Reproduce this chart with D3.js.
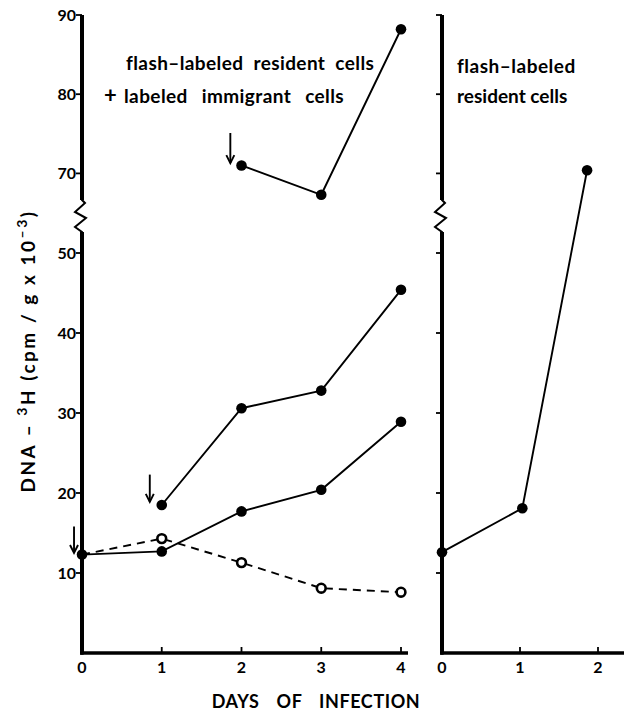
<!DOCTYPE html>
<html>
<head>
<meta charset="utf-8">
<script src="https://cdn.jsdelivr.net/npm/d3@7"></script>
<style>
  body { margin: 0; background: #fff; }
  svg text { font-family: Lato, "Noto Sans", sans-serif; font-weight: bold; fill: #000; }
</style>
</head>
<body>
<div class="chart"></div>
<script>
// values
var days = [0, 1, 2, 3, 4];
var daysRight = [0, 1.03, 1.86];
var yTicks = [10, 20, 30, 40, 50, 70, 80, 90];

// left panel
var seriesTop = [null, null, 71.0, 67.3, 88.2];           // flash + immigrant, labeled day 2
var seriesMid = [null, 18.5, 30.6, 32.8, 45.4];           // labeled day 1
var seriesLow = [12.3, 12.7, 17.7, 20.4, 28.9];           // labeled day 0
var seriesOpen = [12.3, 14.3, 11.3, 8.1, 7.6];            // open circles, dashed

// right panel
var seriesRight = [12.6, 18.1, 70.4];

// arrows: [day, value at tail, value at head]
var arrows = [[1.86, 75.1, 71.3], [0.85, 22.3, 18.9], [-0.1, 15.8, 12.5]];

var w = 624, h = 712;

var svg = d3.select("div.chart")
  .append("svg")
  .attr("width", w)
  .attr("height", h);

// broken y scale: 55..65 is cut out
var y = d3.scaleLinear()
  .domain([0, 55, 65, 90])
  .range([653, 213, 213, 15]);

var xLeft = d3.scaleLinear().domain([0, 4]).range([82, 401]);
var xRight = d3.scaleLinear().domain([0, 2]).range([442, 598]);

var line = function(xs) {
  return d3.line()
    .defined(d => d[1] != null)
    .x(d => xs(d[0]))
    .y(d => y(d[1]));
};

function pairs(xvals, vals) {
  return xvals.map((d, i) => [d, vals[i]]);
}

// y axis with zigzag break
function drawYAxis(x0, labels) {
  var g = svg.append("g");
  var yb0 = 200, yb1 = 232;
  g.append("path")
    .attr("d", d3.line()([[x0, y(90)], [x0, yb0], [x0 + 3, yb0 + 3], [x0 - 7, 212], [x0 + 4, 218], [x0 - 7, 227], [x0, yb1], [x0, y(0) + 1.5]]))
    .attr("fill", "none")
    .attr("stroke", "#000")
    .attr("stroke-width", 2);
  // thick part of the axis
  g.append("line").attr("x1", x0).attr("x2", x0).attr("y1", y(90)).attr("y2", yb0)
    .attr("stroke", "#000").attr("stroke-width", 4);
  g.append("line").attr("x1", x0).attr("x2", x0).attr("y1", yb1).attr("y2", y(0) + 1.5)
    .attr("stroke", "#000").attr("stroke-width", 4);

  g.selectAll(".tick")
    .data(yTicks)
    .enter()
    .append("line")
      .attr("x1", x0 - 6)
      .attr("x2", x0)
      .attr("y1", d => y(d))
      .attr("y2", d => y(d))
      .attr("stroke", "#000")
      .attr("stroke-width", 1.8);

  if (labels) {
    g.selectAll(".lab")
      .data(yTicks)
      .enter()
      .append("text")
        .attr("x", x0 - 6)
        .attr("y", d => y(d))
        .attr("dy", "0.36em")
        .attr("text-anchor", "end")
        .attr("font-size", 16)
        .text(d => d);
  }
}

function drawXAxis(xs, x1, x2, ticks) {
  var g = svg.append("g");
  g.append("line")
    .attr("x1", x1).attr("x2", x2)
    .attr("y1", y(0)).attr("y2", y(0))
    .attr("stroke", "#000")
    .attr("stroke-width", 3.5);
  g.selectAll(".tick")
    .data(ticks)
    .enter()
    .append("line")
      .attr("x1", d => xs(d)).attr("x2", d => xs(d))
      .attr("y1", y(0)).attr("y2", y(0) - 6)
      .attr("stroke", "#000")
      .attr("stroke-width", 1.8);
  g.selectAll(".lab")
    .data(ticks)
    .enter()
    .append("text")
      .attr("x", d => xs(d))
      .attr("y", y(0) + 20)
      .attr("text-anchor", "middle")
      .attr("font-size", 16)
      .text(d => d);
}

drawYAxis(xLeft(0), true);
drawYAxis(xRight(0), false);
drawXAxis(xLeft, xLeft(0) - 2, 408, days);
drawXAxis(xRight, xRight(0) - 2, w, [0, 1, 2]);

// series
function drawSeries(xs, xvals, vals, dashed, open) {
  var data = pairs(xvals, vals);
  svg.append("path")
    .datum(data)
    .attr("d", line(xs))
    .attr("fill", "none")
    .attr("stroke", "#000")
    .attr("stroke-width", 1.9)
    .attr("stroke-dasharray", dashed ? "8,6" : null);
  svg.append("g").selectAll("circle")
    .data(data.filter((d, i) => d[1] != null && !(open && i == 0)))
    .enter()
    .append("circle")
      .attr("cx", d => xs(d[0]))
      .attr("cy", d => y(d[1]))
      .attr("r", open ? 4.4 : 5.3)
      .attr("fill", open ? "#fff" : "#000")
      .attr("stroke", "#000")
      .attr("stroke-width", open ? 2.6 : 0);
}

drawSeries(xLeft, days, seriesOpen, true, true);
drawSeries(xLeft, days, seriesLow, false, false);
drawSeries(xLeft, days, seriesMid, false, false);
drawSeries(xLeft, days, seriesTop, false, false);
drawSeries(xRight, daysRight, seriesRight, false, false);

// arrows
var ag = svg.append("g");
arrows.forEach(function(a) {
  var ax = xLeft(a[0]), y1 = y(a[1]), y2 = y(a[2]);
  ag.append("line")
    .attr("x1", ax).attr("x2", ax)
    .attr("y1", y1).attr("y2", y2)
    .attr("stroke", "#000").attr("stroke-width", 1.9);
  ag.append("path")
    .attr("d", d3.line()([[ax - 4, y2 - 8], [ax, y2], [ax + 4, y2 - 8]]))
    .attr("fill", "none")
    .attr("stroke", "#000").attr("stroke-width", 1.9);
});

// annotations
svg.append("text").attr("x", 126).attr("y", 70).attr("font-size", 19)
  .attr("letter-spacing", 0.4).attr("word-spacing", 5)
  .text("flash–labeled resident cells");
var t2 = svg.append("text").attr("x", 104).attr("y", 103).attr("font-size", 19)
  .attr("letter-spacing", 0.4).attr("word-spacing", 9);
t2.append("tspan").attr("font-size", 22).text("+");
t2.append("tspan").attr("x", 124).text("labeled immigrant cells");
svg.append("text").attr("x", 457).attr("y", 73).attr("font-size", 19).attr("letter-spacing", 0.5)
  .text("flash–labeled");
svg.append("text").attr("x", 457).attr("y", 103).attr("font-size", 19)
  .text("resident cells");

// axis titles
var yl = svg.append("text")
  .attr("transform", "translate(35,351) rotate(-90)")
  .attr("text-anchor", "middle")
  .attr("font-size", 19)
  .attr("letter-spacing", 2.5);
yl.append("tspan").text("DNA – ");
yl.append("tspan").attr("dy", -8).attr("font-size", 14).text("3");
yl.append("tspan").attr("dy", 8).text("H  (cpm / g x 10");
yl.append("tspan").attr("dy", -8).attr("font-size", 14).text("–3");
yl.append("tspan").attr("dy", 8).text(")");

svg.append("text")
  .attr("x", 316)
  .attr("y", 708)
  .attr("text-anchor", "middle")
  .attr("font-size", 18)
  .attr("letter-spacing", 0.6)
  .attr("word-spacing", 12)
  .text("DAYS OF INFECTION");
</script>
</body>
</html>
